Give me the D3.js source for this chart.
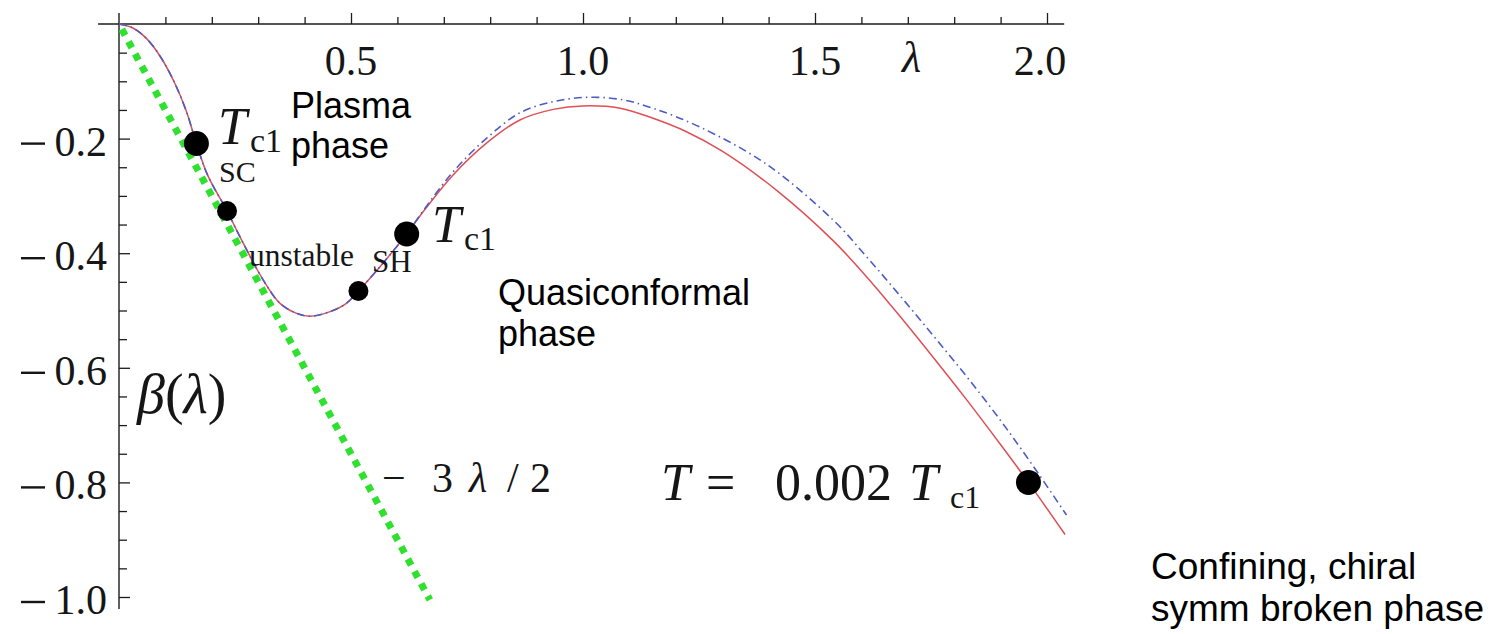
<!DOCTYPE html>
<html>
<head>
<meta charset="utf-8">
<script src="https://cdn.jsdelivr.net/npm/d3@7"></script>
<style>
  html, body { margin: 0; padding: 0; background: #fff; }
  svg { display: block; }
</style>
</head>
<body>
<svg id="chart" width="1498" height="634"></svg>
<script>
// β(λ) at T = 0.002 Tc1: solid curve and dash-dotted companion curve
const lambdaSolid = [0, 0.03, 0.06, 0.09, 0.12, 0.145, 0.1668, 0.19, 0.2328, 0.268, 0.311, 0.347, 0.383, 0.412, 0.455, 0.49, 0.516, 0.5625, 0.598, 0.62, 0.66, 0.72, 0.792, 0.864, 0.936, 1.0, 1.08, 1.151, 1.223, 1.3, 1.42, 1.539, 1.611, 1.68, 1.755, 1.827, 1.899, 1.96, 2.039];
const betaSolid   = [0, -0.007, -0.026, -0.058, -0.103, -0.152, -0.2085, -0.262, -0.3264, -0.383, -0.447, -0.4875, -0.505, -0.51, -0.502, -0.4875, -0.466, -0.4235, -0.389, -0.3665, -0.323, -0.2635, -0.208, -0.1675, -0.149, -0.143, -0.147, -0.1646, -0.188, -0.222, -0.292, -0.378, -0.441, -0.507, -0.582, -0.656, -0.733, -0.80, -0.891];

const lambdaDashDot = [0, 0.03, 0.06, 0.09, 0.12, 0.145, 0.1668, 0.19, 0.2328, 0.268, 0.311, 0.347, 0.383, 0.412, 0.455, 0.49, 0.516, 0.5625, 0.598, 0.62, 0.66, 0.72, 0.792, 0.864, 0.936, 1.007, 1.08, 1.151, 1.255, 1.396, 1.539, 1.611, 1.683, 1.755, 1.827, 1.899, 1.971, 2.042];
const betaDashDot   = [0, -0.007, -0.026, -0.058, -0.103, -0.152, -0.2085, -0.262, -0.3264, -0.383, -0.447, -0.4875, -0.505, -0.51, -0.502, -0.4875, -0.466, -0.4235, -0.389, -0.3665, -0.321, -0.258, -0.1995, -0.155, -0.1355, -0.128, -0.1315, -0.147, -0.181, -0.245, -0.342, -0.406, -0.474, -0.544, -0.6155, -0.691, -0.7725, -0.857];

// Leading-order asymptote −3λ/2 (end points)
const lambdaAsymptote = [0, 0.67];
const betaAsymptote   = [0, -1.005];

// Marked points on the curve
const pointLambda = [0.1668, 0.2328, 0.516, 0.62, 1.96];
const pointBeta   = [-0.2085, -0.3264, -0.466, -0.3665, -0.80];
const pointKind   = ["transition", "spinodal", "spinodal", "transition", "transition"];

// Axis ticks and labels
const xMajorTicks = [0.5, 1.0, 1.5, 2.0];
const xTickLabels = ["0.5", "1.0", "1.5", "2.0"];
const yMajorTicks = [-0.2, -0.4, -0.6, -0.8, -1.0];
const yTickLabels = ["0.2", "0.4", "0.6", "0.8", "1.0"];

const svg = d3.select("#chart");
const x = d3.scaleLinear().domain([0, 2]).range([119, 1047]);
const y = d3.scaleLinear().domain([0, -1]).range([24, 597]);

const SERIF = "'Liberation Serif', 'Times New Roman', serif";
const SANS = "'Liberation Sans', Arial, sans-serif";
const INK = "#161616";

function serif(parent, px, py, str, size, opts = {}) {
  return parent.append("text")
    .attr("x", px).attr("y", py)
    .attr("font-family", SERIF)
    .attr("font-size", size)
    .attr("fill", INK)
    .attr("text-anchor", opts.anchor || "start")
    .attr("font-style", opts.italic ? "italic" : "normal")
    .text(str);
}
function sans(parent, px, py, lines, size, lh) {
  const t = parent.append("text")
    .attr("font-family", SANS)
    .attr("font-size", size)
    .attr("fill", "#000");
  lines.forEach((s, i) => t.append("tspan").attr("x", px).attr("y", py + i * lh).text(s));
  return t;
}

// ---- axes ----
const axes = svg.append("g").attr("stroke", "#1c1c1c").attr("stroke-width", 1.4);
axes.append("line").attr("x1", x(-0.045)).attr("x2", x(2.037)).attr("y1", y(0)).attr("y2", y(0));
axes.append("line").attr("x1", x(0)).attr("x2", x(0)).attr("y1", y(0.019)).attr("y2", y(-1.021));

const isMajor = (v, majors) => majors.some(m => Math.abs(m - v) < 1e-6);
const xMinor = d3.range(1, 20).map(i => i / 10).filter(v => !isMajor(v, xMajorTicks));
const yMinor = d3.range(1, 20).map(i => -i / 20).filter(v => !isMajor(v, yMajorTicks));

function styleAxis(g) {
  g.select(".domain").remove();
  g.selectAll(".tick line").attr("stroke", "#1c1c1c").attr("stroke-width", 1.3);
  g.selectAll(".tick text").remove();
}
svg.append("g").attr("transform", `translate(0,${y(0)})`)
  .call(d3.axisTop(x).tickValues(xMinor).tickSize(7).tickFormat("")).call(styleAxis);
svg.append("g").attr("transform", `translate(0,${y(0)})`)
  .call(d3.axisTop(x).tickValues(xMajorTicks).tickSize(11).tickFormat("")).call(styleAxis);
svg.append("g").attr("transform", `translate(${x(0)},0)`)
  .call(d3.axisRight(y).tickValues(yMinor).tickSize(8).tickFormat("")).call(styleAxis);
svg.append("g").attr("transform", `translate(${x(0)},0)`)
  .call(d3.axisRight(y).tickValues(yMajorTicks).tickSize(11).tickFormat("")).call(styleAxis);

const labels = svg.append("g");
const xAxisEnd = x(2.037);
xMajorTicks.forEach((v, i) => {
  const t = serif(labels, x(v), y(0) + 51, xTickLabels[i], 42, { anchor: "middle" });
  const b = t.node().getBBox();
  if (b.x + b.width > xAxisEnd + 2) t.attr("x", x(v) - (b.x + b.width - xAxisEnd - 2));
});
// y labels: long minus sign set apart from the digits
yMajorTicks.forEach((v, i) => {
  serif(labels, x(0) - 12, y(v) + 17, yTickLabels[i], 42, { anchor: "end" });
  labels.append("line")
    .attr("x1", 21).attr("x2", 45)
    .attr("y1", y(v) + 5).attr("y2", y(v) + 5)
    .attr("stroke", INK).attr("stroke-width", 2.4);
});

// axis names
serif(labels, 902, 72, "\u03bb", 44, { italic: true });
const bl = labels.append("text")
  .attr("x", 137).attr("y", 413)
  .attr("font-family", SERIF).attr("font-size", 56).attr("fill", INK);
bl.append("tspan").attr("font-style", "italic").text("\u03b2");
bl.append("tspan").text("(");
bl.append("tspan").attr("font-style", "italic").text("\u03bb");
bl.append("tspan").text(")");

// ---- curves ----
const line = d3.line().x(d => x(d[0])).y(d => y(d[1])).curve(d3.curveCatmullRom.alpha(0.5));

svg.append("path")
  .datum(d3.zip(lambdaAsymptote, betaAsymptote))
  .attr("d", d3.line().x(d => x(d[0])).y(d => y(d[1])))
  .attr("fill", "none").attr("stroke", "#2fe02f").attr("stroke-width", 7)
  .attr("stroke-dasharray", "7,7").attr("stroke-dashoffset", -6);

svg.append("path")
  .datum(d3.zip(lambdaSolid, betaSolid))
  .attr("d", line)
  .attr("fill", "none").attr("stroke", "#df4f55").attr("stroke-width", 1.5);

svg.append("path")
  .datum(d3.zip(lambdaDashDot, betaDashDot))
  .attr("d", line)
  .attr("fill", "none").attr("stroke", "#4c5cc4").attr("stroke-width", 1.6)
  .attr("stroke-dasharray", "8,4,1.5,4");

// ---- marked points ----
svg.append("g").selectAll("circle")
  .data(d3.zip(pointLambda, pointBeta, pointKind))
  .join("circle")
  .attr("cx", d => x(d[0]))
  .attr("cy", d => y(d[1]))
  .attr("r", d => d[2] === "transition" ? 12.5 : 10)
  .attr("fill", "#000");

// ---- annotations ----
const ann = svg.append("g");
// upper T_c1
serif(ann, 218, 144, "T", 52, { italic: true });
serif(ann, 250, 152, "c1", 34);
serif(ann, 219, 182, "SC", 30);
// lower T_c1
serif(ann, 432, 242, "T", 52, { italic: true });
serif(ann, 464, 250, "c1", 34);
serif(ann, 372, 272, "SH", 31);
serif(ann, 249, 266, "unstable", 31.5);
// asymptote label
serif(ann, 382, 492, "\u2212", 42);
serif(ann, 432, 492, "3", 42);
serif(ann, 469, 492, "\u03bb", 42, { italic: true });
serif(ann, 507, 492, "/", 42);
serif(ann, 530, 492, "2", 42);
// temperature label
serif(ann, 661, 500, "T", 52, { italic: true });
serif(ann, 706, 500, "=", 52);
serif(ann, 775, 500, "0.002", 52);
serif(ann, 909, 500, "T", 52, { italic: true });
serif(ann, 950, 508, "c1", 32);

// phase names
sans(ann, 291, 118, ["Plasma", "phase"], 36, 40);
sans(ann, 498, 305, ["Quasiconformal", "phase"], 36, 41);
sans(ann, 1151, 579, ["Confining, chiral", "symm broken phase"], 37, 42);
</script>
</body>
</html>
